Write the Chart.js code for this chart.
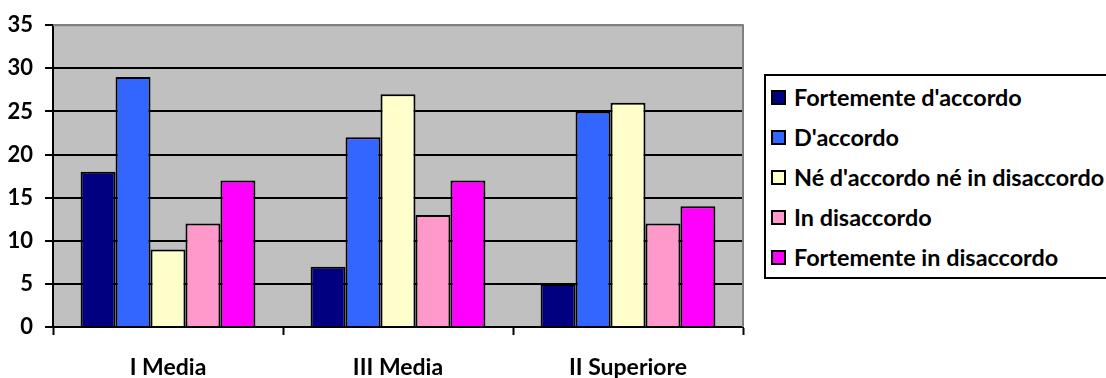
<!DOCTYPE html>
<html>
<head>
<meta charset="utf-8">
<script src="https://cdn.jsdelivr.net/npm/chart.js@4/dist/chart.umd.min.js"></script>
<style>
  html, body { margin: 0; padding: 0; background: #fff; overflow: hidden; }
  #wrap { width: 1106px; height: 378px; position: relative; overflow: hidden; }
  #legend {
    position: absolute; left: 764px; top: 74px; width: 360px;
    border: 2px solid #000; background: #fff; padding: 1px 0 0 0;
    font-family: Lato, "Open Sans", sans-serif; font-weight: bold; font-size: 23.4px; color: #000;
  }
  #legend .item { height: 40px; line-height: 40px; white-space: nowrap; position: relative; padding-left: 28px; }
  #legend .sw { position: absolute; left: 5px; top: 13px; width: 11px; height: 11px; border: 2px solid #000; }
</style>
</head>
<body>
<div id="wrap"><canvas id="myChart"></canvas><div id="legend"></div></div>
<script>
// categories and series
const categories = ['I Media', 'III Media', 'II Superiore'];
const seriesNames = ['Fortemente d\'accordo', 'D\'accordo', 'Né d\'accordo né in disaccordo', 'In disaccordo', 'Fortemente in disaccordo'];
const fortementeAccordo = [18, 7, 5];
const accordo = [29, 22, 25];
const neNe = [9, 27, 26];
const disaccordo = [12, 13, 12];
const fortementeDisaccordo = [17, 17, 14];
const yTicks = [0, 5, 10, 15, 20, 25, 30, 35];

const seriesValues = [fortementeAccordo, accordo, neNe, disaccordo, fortementeDisaccordo];
const seriesColors = ['#000080', '#3366ff', '#ffffcc', '#ff99cc', '#ff00ff'];

const fontFamily = 'Lato, "Open Sans", sans-serif';

// grey plot background + grey top/right border
const plotArea = {
    id: 'plotArea',
    beforeDraw(chart) {
        const a = chart.chartArea, c = chart.ctx;
        c.save();
        c.fillStyle = '#c0c0c0';
        c.fillRect(a.left, a.top, a.right - a.left, a.bottom - a.top);
        c.restore();
    },
    afterDatasetsDraw(chart) {
        const a = chart.chartArea, c = chart.ctx;
        c.save();
        c.strokeStyle = '#808080';
        c.lineWidth = 2;
        c.beginPath();
        c.moveTo(a.left, a.top);
        c.lineTo(a.right, a.top);
        c.lineTo(a.right, a.bottom);
        c.stroke();
        c.restore();
    }
};

// html legend built from the chart's datasets
function buildLegend(chart) {
    const el = document.getElementById('legend');
    el.innerHTML = '';
    chart.data.datasets.forEach(ds => {
        const row = document.createElement('div');
        row.className = 'item';
        const sw = document.createElement('span');
        sw.className = 'sw';
        sw.style.background = ds.backgroundColor;
        row.appendChild(sw);
        row.appendChild(document.createTextNode(ds.label));
        el.appendChild(row);
    });
}

const ctx = document.getElementById('myChart').getContext('2d');
const myChartInstance = new Chart(ctx, {
    type: 'bar',
    data: {
        labels: categories,
        datasets: seriesNames.map((name, i) => ({
            label: name,
            data: seriesValues[i],
            backgroundColor: seriesColors[i],
            borderColor: '#000',
            borderWidth: 2,
            categoryPercentage: 0.76,
            barPercentage: 1.0
        }))
    },
    options: {
        responsive: true,
        maintainAspectRatio: false,
        animation: false,
        layout: { padding: { top: 23, left: 0, right: 363, bottom: 0 } },
        plugins: {
            tooltip: { enabled: false },
            legend: { display: false }
        },
        scales: {
            x: {
                afterFit(axis) { axis.height = 51; },
                grid: {
                    display: true,
                    drawOnChartArea: false,
                    drawTicks: true,
                    tickLength: 8,
                    tickColor: '#000',
                    tickWidth: 2,
                    offset: true
                },
                border: { color: '#000', width: 2 },
                ticks: {
                    color: '#000',
                    padding: 19,
                    font: { family: fontFamily, size: 23, weight: 'bold' }
                }
            },
            y: {
                min: 0,
                max: 35,
                afterFit(axis) { axis.width = 53; },
                afterBuildTicks(axis) {
                    axis.ticks = yTicks.map(v => ({ value: v }));
                },
                grid: {
                    color: c => c.tick && c.tick.value === 35 ? '#808080' : '#000',
                    lineWidth: 2,
                    tickLength: 8,
                    tickColor: '#000',
                    tickWidth: 2
                },
                border: { color: '#000', width: 2 },
                ticks: {
                    color: '#000',
                    padding: 12,
                    font: { family: fontFamily, size: 22, weight: 'bold' }
                }
            }
        }
    },
    plugins: [plotArea]
});

buildLegend(myChartInstance);
</script>
</body>
</html>
